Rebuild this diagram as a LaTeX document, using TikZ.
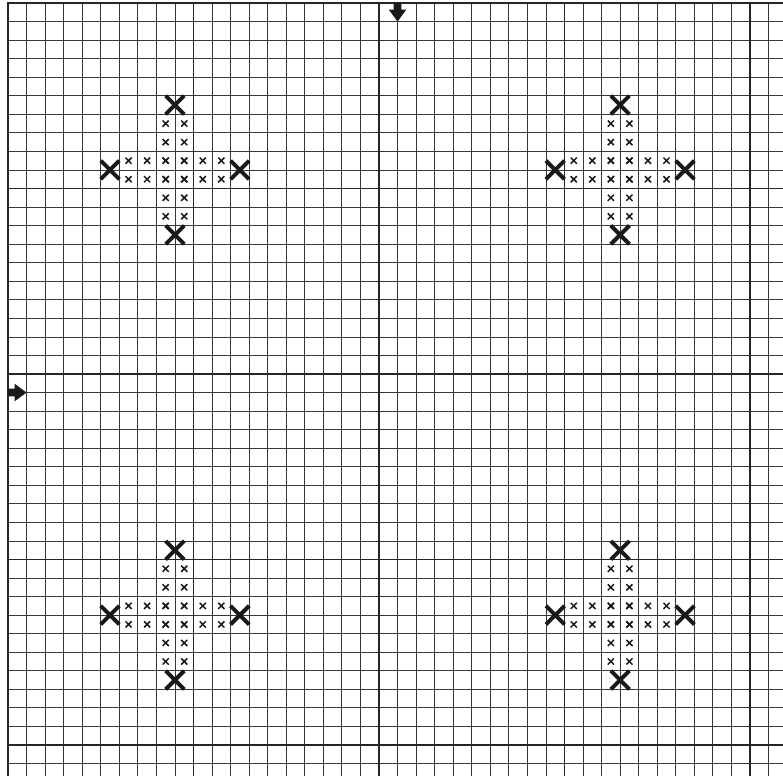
\documentclass[tikz,border=0pt]{standalone}
\begin{document}
\begin{tikzpicture}[x=0.5cm,y=-0.5cm,
  gridthin/.style={draw=black!78,line width=0.6pt},
  gridthick/.style={draw=black!85,line width=1.4pt},
  gridborder/.style={draw=black!85,line width=2pt},
  smallx/.pic={\draw[black!90,line width=1.15pt] (-0.165,-0.165)--(0.165,0.165) (-0.165,0.165)--(0.165,-0.165);},
  bigx/.pic={\draw[black!90,line width=3pt] (-0.5,-0.5)--(0.5,0.5) (-0.5,0.5)--(0.5,-0.5);},
  marker/.style={fill=black!90}]
\useasboundingbox (-0.431,-0.162) rectangle (41.78,41.67);
\fill[white] (-0.431,-0.162) rectangle (41.78,41.67);
\begin{scope}
\clip (-0.431,-0.162) rectangle (41.78,41.67);
\foreach \i in {1,...,41} {
  \draw[gridthin] (\i,0) -- (\i,41.8);
  \draw[gridthin] (0,\i) -- (41.9,\i);
}
\foreach \i in {10,20,30,40} {
  \draw[gridthick] (\i,0) -- (\i,41.8);
  \draw[gridthick] (0,\i) -- (41.9,\i);
}
\draw[gridborder] (0,41.8) -- (0,0) -- (41.9,0);
\end{scope}
% centre markers
\fill[marker] (20.79,0) -- (21.21,0) -- (21.21,0.36) -- (21.47,0.36) -- (21,1) -- (20.53,0.36) -- (20.79,0.36) -- cycle;
\fill[marker] (0,20.79) -- (0,21.21) -- (0.36,21.21) -- (0.36,21.47) -- (1,21) -- (0.36,20.53) -- (0.36,20.79) -- cycle;
% motifs
\foreach \cx/\cy in {9/9,33/9,9/33,33/33} {
  \foreach \d in {-2.5,-1.5,-0.5,0.5,1.5,2.5} {
    \pic at (\cx-0.5,\cy+\d) {smallx};
    \pic at (\cx+0.5,\cy+\d) {smallx};
    \pic at (\cx+\d,\cy-0.5) {smallx};
    \pic at (\cx+\d,\cy+0.5) {smallx};
  }
  \pic at (\cx,\cy-3.5) {bigx};
  \pic at (\cx,\cy+3.5) {bigx};
  \pic at (\cx-3.5,\cy) {bigx};
  \pic at (\cx+3.5,\cy) {bigx};
}
\end{tikzpicture}
\end{document}
